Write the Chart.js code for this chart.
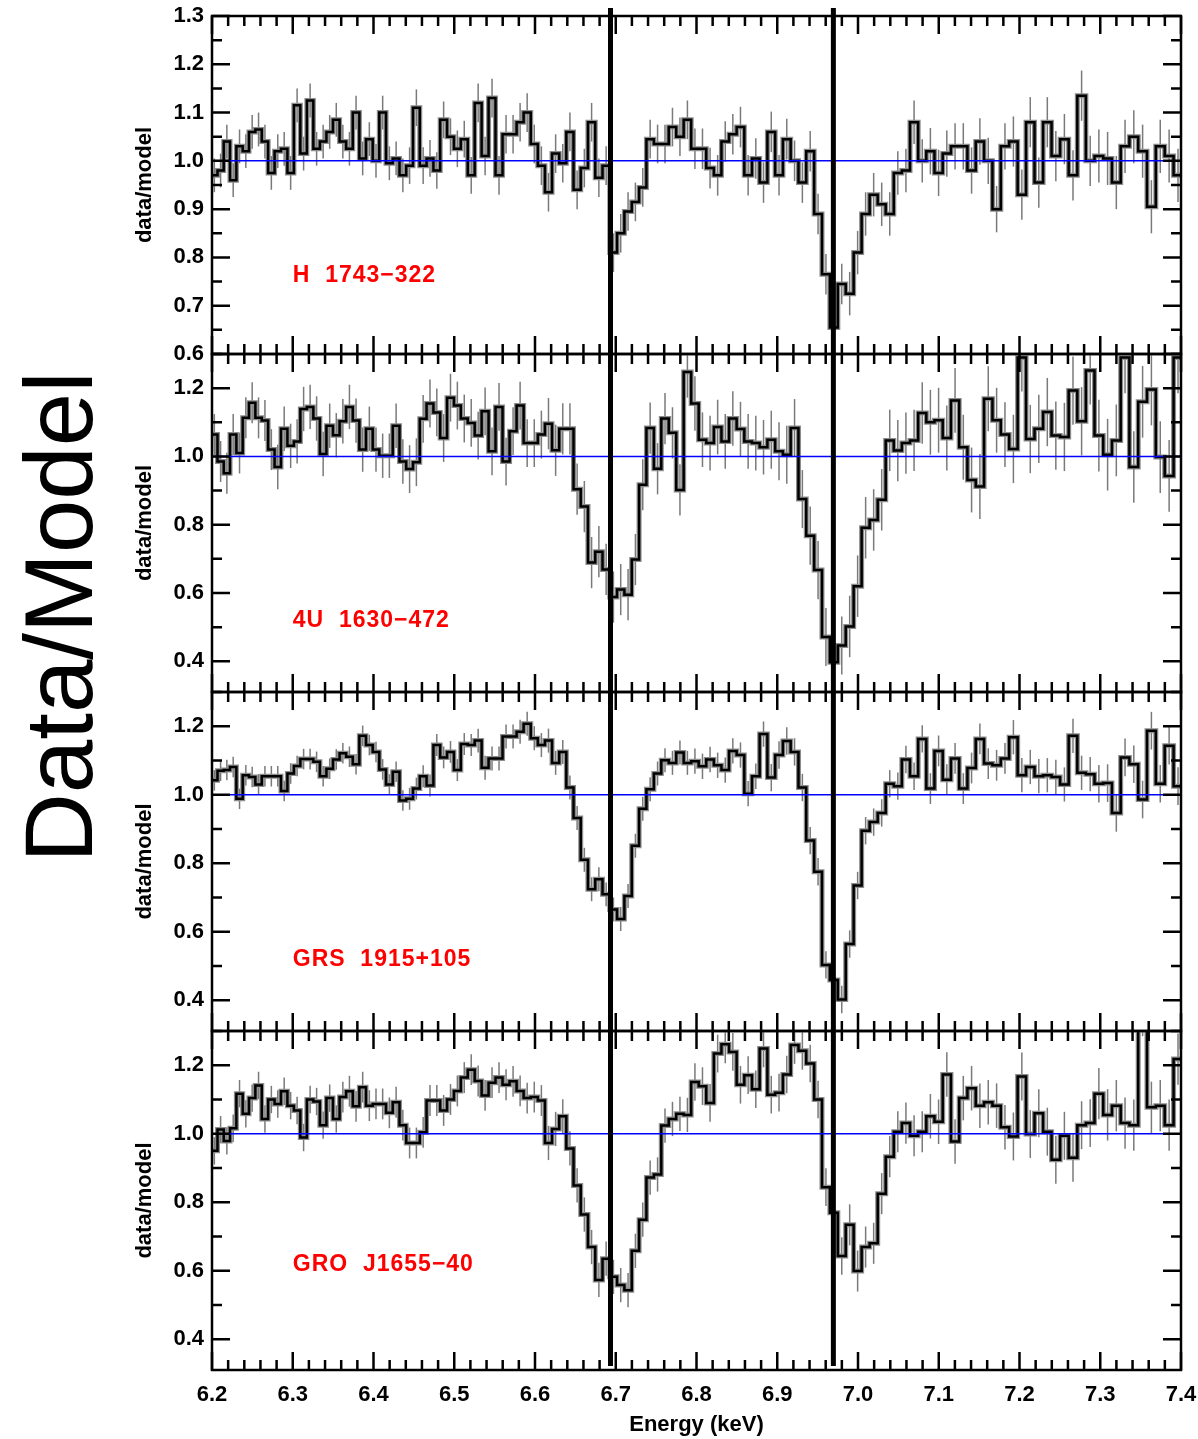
<!DOCTYPE html>
<html>
<head>
<meta charset="utf-8">
<title>Data/Model</title>
<script src="https://cdn.jsdelivr.net/npm/chart.js@4.4.0/dist/chart.umd.min.js"></script>
<style>
  body { margin: 0; background: #fff; width: 1198px; height: 1439px; position: relative; overflow: hidden; }
  .panel { position: absolute; left: 120px; width: 1078px; }
  #bigLabel {
    position: absolute; left: 59px; top: 617px;
    transform: translate(-50%, -50%) rotate(-90deg);
    font: 96px "Liberation Sans", Arial, sans-serif; color: #000; white-space: nowrap;
  }
</style>
</head>
<body>
<div id="bigLabel">Data/Model</div>
<div class="panel" style="top:4px;height:362px"><canvas id="c1"></canvas></div>
<div class="panel" style="top:342px;height:362px"><canvas id="c2"></canvas></div>
<div class="panel" style="top:680px;height:363px"><canvas id="c3"></canvas></div>
<div class="panel" style="top:1019px;height:420px"><canvas id="c4"></canvas></div>
<script>
// Energy bin edges (keV): HEG bins of 0.0025 A from 2.000 A down to 1.675 A
const binEdges = [
  6.1990, 6.2068, 6.2145, 6.2223, 6.2302, 6.2380, 6.2458, 6.2537, 6.2616, 6.2695,
  6.2775, 6.2854, 6.2934, 6.3014, 6.3094, 6.3175, 6.3255, 6.3336, 6.3417, 6.3498,
  6.3580, 6.3661, 6.3743, 6.3825, 6.3907, 6.3990, 6.4072, 6.4155, 6.4238, 6.4322,
  6.4405, 6.4489, 6.4573, 6.4657, 6.4742, 6.4826, 6.4911, 6.4996, 6.5081, 6.5167,
  6.5253, 6.5339, 6.5425, 6.5511, 6.5598, 6.5685, 6.5772, 6.5859, 6.5947, 6.6035,
  6.6123, 6.6211, 6.6300, 6.6388, 6.6477, 6.6566, 6.6656, 6.6746, 6.6836, 6.6926,
  6.7016, 6.7107, 6.7198, 6.7289, 6.7380, 6.7472, 6.7564, 6.7656, 6.7749, 6.7841,
  6.7934, 6.8027, 6.8121, 6.8215, 6.8309, 6.8403, 6.8497, 6.8592, 6.8687, 6.8782,
  6.8878, 6.8974, 6.9070, 6.9166, 6.9263, 6.9359, 6.9457, 6.9554, 6.9652, 6.9750,
  6.9848, 6.9946, 7.0045, 7.0144, 7.0244, 7.0343, 7.0443, 7.0543, 7.0644, 7.0745,
  7.0846, 7.0947, 7.1049, 7.1151, 7.1253, 7.1355, 7.1458, 7.1561, 7.1665, 7.1768,
  7.1872, 7.1977, 7.2081, 7.2186, 7.2292, 7.2397, 7.2503, 7.2609, 7.2716, 7.2822,
  7.2929, 7.3037, 7.3145, 7.3253, 7.3361, 7.3470, 7.3579, 7.3688, 7.3798, 7.3908,
  7.4018,
];

// data/model ratio in each bin, one array per source
const h1743 = [
  0.97, 0.98, 1.04, 0.96, 1.03, 1.02, 1.06, 1.065, 1.04, 0.975,
  1.02, 1.025, 0.975, 1.115, 1.015, 1.125, 1.025, 1.04, 1.06, 1.085,
  1.04, 1.025, 1.10, 1.005, 1.045, 1.00, 1.10, 0.995, 1.005, 0.97,
  0.99, 1.11, 0.99, 1.005, 0.98, 1.085, 1.05, 1.025, 1.045, 0.97,
  1.12, 1.01, 1.13, 0.97, 1.055, 1.055, 1.08, 1.10, 1.035, 0.99,
  0.935, 1.015, 0.995, 1.06, 0.94, 0.985, 1.08, 0.965, 0.99, 0.81,
  0.85, 0.895, 0.915, 0.945, 1.045, 1.035, 1.035, 1.07, 1.05, 1.085,
  1.025, 1.025, 0.985, 0.97, 1.04, 1.055, 1.07, 0.97, 1.005, 0.955,
  1.06, 0.97, 1.045, 1.00, 0.955, 1.02, 0.89, 0.765, 0.655, 0.745,
  0.725, 0.81, 0.89, 0.93, 0.91, 0.89, 0.975, 0.98, 1.08, 1.00,
  1.02, 0.975, 1.015, 1.03, 1.03, 0.98, 1.04, 1.00, 0.90, 1.03,
  1.04, 0.93, 1.08, 0.955, 1.08, 1.01, 1.045, 0.97, 1.135, 1.00,
  1.01, 1.005, 0.955, 1.03, 1.05, 1.02, 0.905, 1.03, 1.01, 0.97,
];
const u1630 = [
  1.064, 0.985, 0.951, 1.064, 1.01, 1.113, 1.157, 1.113, 1.105, 1.02,
  0.969, 1.081, 1.031, 1.044, 1.139, 1.145, 1.111, 1.007, 1.09, 1.062,
  1.103, 1.145, 1.105, 1.02, 1.081, 1.02, 1.002, 1.002, 1.09, 0.985,
  0.963, 0.983, 1.11, 1.155, 1.129, 1.054, 1.172, 1.149, 1.111, 1.098,
  1.061, 1.132, 1.015, 1.145, 0.985, 1.074, 1.149, 1.039, 1.039, 1.064,
  1.096, 1.018, 1.081, 1.081, 0.904, 0.853, 0.689, 0.721, 0.669, 0.588,
  0.61, 0.595, 0.698, 0.917, 1.083, 0.964, 1.111, 1.069, 0.902, 1.247,
  1.155, 1.049, 1.039, 1.086, 1.044, 1.111, 1.08, 1.044, 1.039, 1.027,
  1.049, 1.015, 1.005, 1.083, 0.875, 0.768, 0.667, 0.471, 0.397, 0.446,
  0.502, 0.62, 0.791, 0.814, 0.873, 1.047, 1.017, 1.039, 1.047, 1.127,
  1.10, 1.106, 1.054, 1.164, 1.027, 0.931, 0.912, 1.169, 1.106, 1.064,
  1.022, 1.29, 1.051, 1.081, 1.13, 1.061, 1.057, 1.193, 1.103, 1.252,
  1.061, 1.005, 1.047, 1.29, 0.969, 1.16, 1.196, 0.998, 0.943, 1.29,
];
const grs1915 = [
  1.042, 1.07, 1.072, 1.081, 0.988, 1.057, 1.052, 1.03, 1.054, 1.054,
  1.054, 1.011, 1.062, 1.084, 1.104, 1.104, 1.096, 1.054, 1.076, 1.103,
  1.121, 1.111, 1.089, 1.172, 1.145, 1.125, 1.074, 1.03, 1.067, 0.983,
  0.988, 1.018, 1.054, 1.027, 1.145, 1.109, 1.125, 1.072, 1.148, 1.145,
  1.158, 1.079, 1.106, 1.106, 1.17, 1.17, 1.184, 1.207, 1.165, 1.145,
  1.158, 1.093, 1.125, 1.021, 0.932, 0.81, 0.724, 0.753, 0.709, 0.665,
  0.637, 0.704, 0.851, 0.959, 1.016, 1.062, 1.101, 1.093, 1.123, 1.093,
  1.098, 1.083, 1.103, 1.086, 1.072, 1.128, 1.116, 1.003, 1.054, 1.177,
  1.05, 1.116, 1.157, 1.125, 1.021, 0.866, 0.775, 0.503, 0.459, 0.402,
  0.564, 0.735, 0.895, 0.92, 0.947, 1.032, 1.025, 1.103, 1.054, 1.163,
  1.018, 1.128, 1.044, 1.106, 1.018, 1.078, 1.163, 1.091, 1.086, 1.106,
  1.168, 1.057, 1.081, 1.054, 1.057, 1.052, 1.03, 1.172, 1.064, 1.06,
  1.032, 1.034, 0.947, 1.109, 1.089, 0.986, 1.187, 1.032, 1.143, 1.025,
];
const gro1655 = [
  0.95, 1.012, 0.979, 1.016, 1.117, 1.058, 1.104, 1.141, 1.043, 1.10,
  1.087, 1.124, 1.082, 1.068, 0.989, 1.10, 1.094, 1.025, 1.104, 1.043,
  1.107, 1.124, 1.08, 1.136, 1.082, 1.087, 1.087, 1.061, 1.092, 1.025,
  0.973, 0.973, 1.004, 1.097, 1.097, 1.068, 1.10, 1.125, 1.164, 1.187,
  1.154, 1.112, 1.149, 1.164, 1.143, 1.153, 1.125, 1.104, 1.107, 1.097,
  0.973, 1.014, 1.051, 0.957, 0.849, 0.764, 0.669, 0.573, 0.635, 0.582,
  0.558, 0.543, 0.658, 0.749, 0.872, 0.881, 1.024, 1.043, 1.058, 1.055,
  1.151, 1.139, 1.09, 1.234, 1.261, 1.239, 1.143, 1.171, 1.13, 1.249,
  1.114, 1.12, 1.173, 1.259, 1.242, 1.205, 1.10, 0.844, 0.769, 0.643,
  0.734, 0.599, 0.669, 0.68, 0.825, 0.933, 1.006, 1.031, 0.994, 1.006,
  1.051, 1.035, 1.173, 0.977, 1.104, 1.133, 1.082, 1.092, 1.082, 1.019,
  0.992, 1.167, 0.999, 1.06, 1.006, 0.924, 0.994, 0.93, 1.025, 1.031,
  1.117, 1.055, 1.082, 1.031, 1.025, 1.36, 1.077, 1.082, 1.025, 1.218,
];

// 1-sigma errors, one value for each block of 10 bins
const errH1743 = [0.035, 0.035, 0.035, 0.038, 0.04, 0.04, 0.04, 0.042, 0.042, 0.045, 0.048, 0.052, 0.055];
const errU1630 = [0.06, 0.065, 0.065, 0.07, 0.07, 0.075, 0.075, 0.08, 0.085, 0.09, 0.095, 0.1, 0.105];
const errGrs1915 = [0.03, 0.03, 0.03, 0.032, 0.035, 0.035, 0.035, 0.037, 0.04, 0.04, 0.045, 0.05, 0.055];
const errGro1655 = [0.04, 0.04, 0.045, 0.045, 0.045, 0.05, 0.05, 0.055, 0.055, 0.06, 0.065, 0.07, 0.075];

// tick labels
const xTicks = [6.2, 6.3, 6.4, 6.5, 6.6, 6.7, 6.8, 6.9, 7.0, 7.1, 7.2, 7.3, 7.4];
const yTicksTop = [0.6, 0.7, 0.8, 0.9, 1.0, 1.1, 1.2, 1.3];
const yTicksLow = [0.4, 0.6, 0.8, 1.0, 1.2];

// Fe XXV and Fe XXVI line energies (keV)
const lineEnergies = [6.6935, 6.9695];

const FONT = "'Liberation Sans', Arial, sans-serif";
const axisFont = { family: FONT, size: 22, weight: "bold" };

const panels = [
  { id: "c1", name: "H  1743\u2212322", vals: h1743, errs: errH1743, yMin: 0.6, yMax: 1.3, ticks: yTicksTop, minor: 0.05, labelY: 0.75, first: true },
  { id: "c2", name: "4U  1630\u2212472", vals: u1630, errs: errU1630, yMin: 0.31, yMax: 1.3, ticks: yTicksLow, minor: 0.1, labelY: 0.5 },
  { id: "c3", name: "GRS  1915+105", vals: grs1915, errs: errGrs1915, yMin: 0.31, yMax: 1.3, ticks: yTicksLow, minor: 0.1, labelY: 0.5 },
  { id: "c4", name: "GRO  J1655\u221240", vals: gro1655, errs: errGro1655, yMin: 0.31, yMax: 1.3, ticks: yTicksLow, minor: 0.1, labelY: 0.6, last: true },
];

// histogram points at the left bin edges, plus the closing right edge
function histPoints(vals) {
  const pts = vals.map((v, i) => ({ x: binEdges[i], y: v }));
  pts.push({ x: binEdges[vals.length], y: vals[vals.length - 1] });
  return pts;
}

function isMultiple(v, step) {
  const r = v / step;
  return Math.abs(r - Math.round(r)) < 1e-6;
}

// no extra room for half labels at the axis ends, panels must touch
function noEdgePadding(s) {
  s.paddingTop = 0;
  s.paddingBottom = 0;
  s.paddingLeft = 0;
  s.paddingRight = 0;
}

// error bars, frame, inward ticks, Fe lines and source name
function makeDeco(p) {
  return {
    id: "deco",
    beforeDatasetsDraw(chart) {
      const { ctx, chartArea: a, scales: { x, y } } = chart;
      ctx.save();
      ctx.beginPath();
      ctx.rect(a.left, a.top, a.right - a.left, a.bottom - a.top);
      ctx.clip();
      ctx.strokeStyle = "#7a7a7a";
      ctx.lineWidth = 1.5;
      p.vals.forEach((v, i) => {
        const e = p.errs[Math.floor(i / 10)];
        const xc = x.getPixelForValue((binEdges[i] + binEdges[i + 1]) / 2);
        ctx.beginPath();
        ctx.moveTo(xc, y.getPixelForValue(v - e));
        ctx.lineTo(xc, y.getPixelForValue(v + e));
        ctx.stroke();
      });
      ctx.restore();
    },
    afterDatasetsDraw(chart) {
      const { ctx, chartArea: a, scales: { x, y } } = chart;
      ctx.save();

      // vertical lines
      ctx.strokeStyle = "#000";
      ctx.lineWidth = 5;
      lineEnergies.forEach((en) => {
        const px = x.getPixelForValue(en);
        ctx.beginPath();
        ctx.moveTo(px, p.first ? a.top - 8 : a.top);
        ctx.lineTo(px, p.last ? a.bottom - 4 : a.bottom);
        ctx.stroke();
      });

      // frame
      ctx.lineWidth = 2.5;
      ctx.strokeRect(a.left, a.top, a.right - a.left, a.bottom - a.top);

      // inward ticks
      ctx.beginPath();
      for (let v = 6.2; v <= 7.4001; v += 0.02) {
        const len = isMultiple(v, 0.1) ? 18 : 10;
        const px = x.getPixelForValue(v);
        ctx.moveTo(px, a.top); ctx.lineTo(px, a.top + len);
        ctx.moveTo(px, a.bottom); ctx.lineTo(px, a.bottom - len);
      }
      const start = Math.ceil(p.yMin / p.minor - 1e-6) * p.minor;
      for (let v = start; v <= p.yMax + 1e-6; v += p.minor) {
        const major = p.ticks.some((t) => Math.abs(t - v) < 1e-6);
        const len = major ? 18 : 10;
        const py = y.getPixelForValue(v);
        ctx.moveTo(a.left, py); ctx.lineTo(a.left + len, py);
        ctx.moveTo(a.right, py); ctx.lineTo(a.right - len, py);
      }
      ctx.stroke();

      // source name
      ctx.fillStyle = "#ff0000";
      ctx.font = "bold 23px " + FONT;
      ctx.letterSpacing = "1px";
      ctx.textAlign = "left";
      ctx.textBaseline = "alphabetic";
      ctx.fillText(p.name, x.getPixelForValue(6.3), y.getPixelForValue(p.labelY));
      ctx.restore();
    },
  };
}

panels.forEach((p) => {
  new Chart(document.getElementById(p.id), {
    type: "line",
    data: {
      datasets: [
        { data: [{ x: 6.2, y: 1 }, { x: 7.4, y: 1 }], borderColor: "#0000ff", borderWidth: 1.5, pointRadius: 0, order: 1 },
        { data: histPoints(p.vals), stepped: true, borderColor: "#000", borderWidth: 2.5, pointRadius: 0, order: 2 },
        { data: histPoints(p.vals), stepped: true, borderColor: "#8c8c8c", borderWidth: 5, pointRadius: 0, order: 3 },
      ],
    },
    options: {
      responsive: true,
      maintainAspectRatio: false,
      animation: false,
      events: [],
      layout: { padding: { top: 12, right: 17, bottom: p.last ? 0 : 12, left: 0 } },
      plugins: { legend: { display: false }, tooltip: { enabled: false } },
      scales: {
        x: {
          type: "linear",
          min: 6.2,
          max: 7.4,
          display: !!p.last,
          afterBuildTicks: (s) => { s.ticks = xTicks.map((v) => ({ value: v })); },
          afterFit: (s) => {
            s.height = p.last ? 69 : 0;
            noEdgePadding(s);
          },
          grid: { display: false, drawTicks: false },
          border: { display: false },
          ticks: { autoSkip: false, maxRotation: 0, padding: 12, color: "#000", font: axisFont, callback: (v) => v.toFixed(1) },
          title: { display: true, text: "Energy (keV)", color: "#000", font: axisFont, padding: { top: 0, bottom: 1 } },
        },
        y: {
          type: "linear",
          min: p.yMin,
          max: p.yMax,
          afterBuildTicks: (s) => { s.ticks = p.ticks.map((v) => ({ value: v })); },
          afterFit: (s) => {
            s.width = 92;
            noEdgePadding(s);
          },
          grid: { display: false, drawTicks: false },
          border: { display: false },
          ticks: { autoSkip: false, padding: 8, color: "#000", font: axisFont, callback: (v) => v.toFixed(1) },
          title: { display: true, text: "data/model", color: "#000", font: axisFont, padding: { top: 12, bottom: 0 } },
        },
      },
    },
    plugins: [makeDeco(p)],
  });
});
</script>
</body>
</html>
